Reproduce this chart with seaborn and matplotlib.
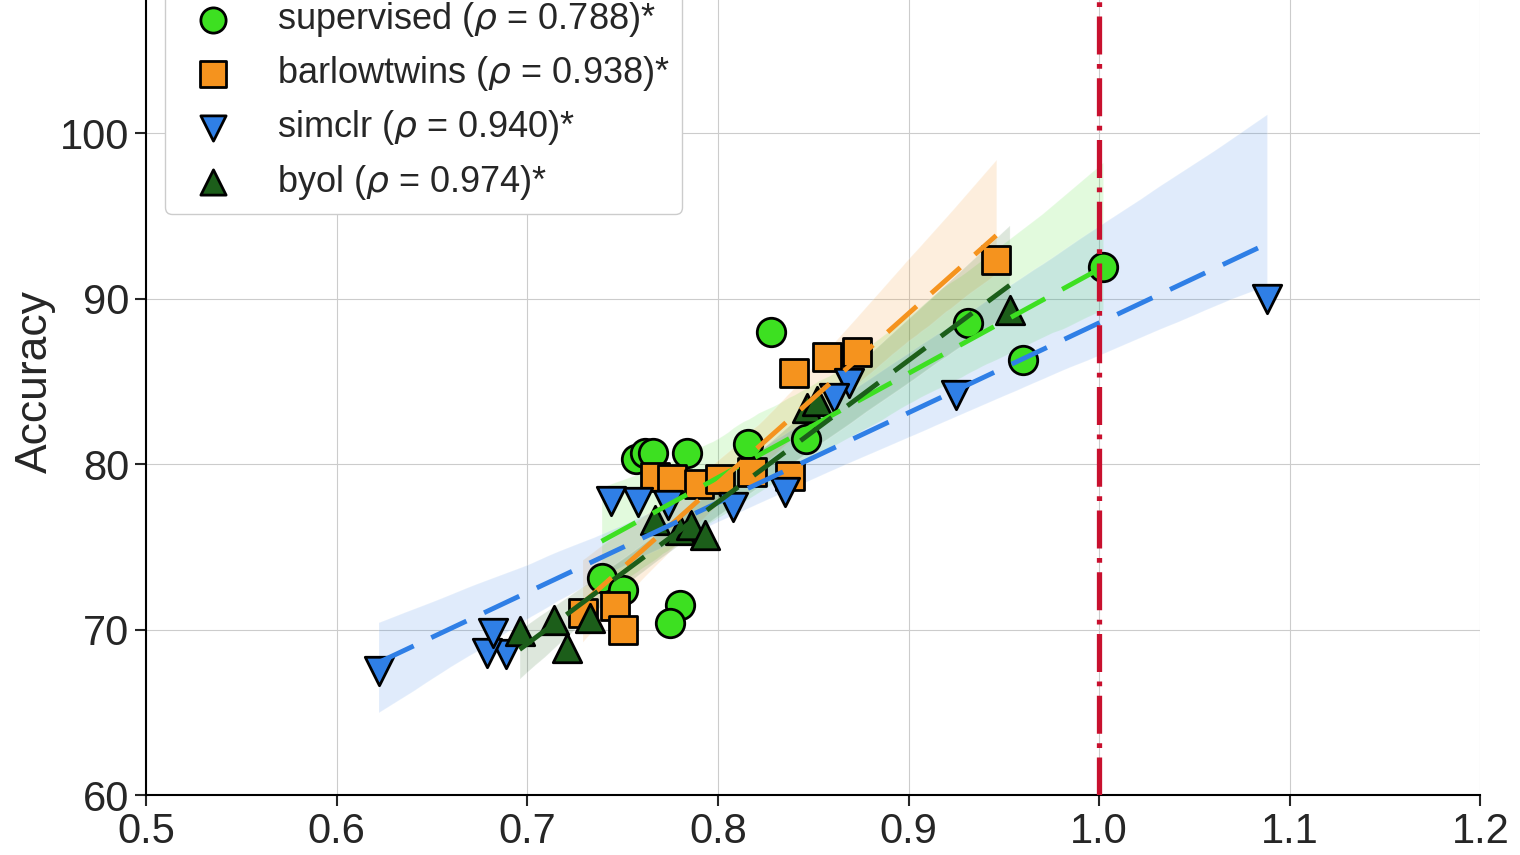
import matplotlib
matplotlib.use("Agg")
import matplotlib.pyplot as plt
import seaborn as sns
import numpy as np

# data
sup_x = [1.002, 0.960, 0.931, 0.828, 0.846, 0.816, 0.784, 0.757, 0.762, 0.766, 0.739, 0.750, 0.780, 0.775]
sup_y = [91.9, 86.3, 88.5, 88.0, 81.5, 81.2, 80.7, 80.3, 80.7, 80.7, 73.1, 72.4, 71.5, 70.4]

bt_x = [0.946, 0.873, 0.857, 0.840, 0.767, 0.776, 0.790, 0.801, 0.818, 0.838, 0.729, 0.746, 0.750]
bt_y = [92.3, 86.8, 86.5, 85.5, 79.2, 79.1, 78.8, 79.1, 79.5, 79.3, 71.0, 71.4, 70.0]

sim_x = [1.088, 0.925, 0.869, 0.861, 0.835, 0.808, 0.774, 0.758, 0.744, 0.689, 0.679, 0.682, 0.622]
sim_y = [90.0, 84.2, 84.9, 84.0, 78.3, 77.4, 77.5, 77.7, 77.8, 68.5, 68.6, 69.8, 67.5]

byol_x = [0.953, 0.847, 0.852, 0.767, 0.780, 0.786, 0.793, 0.696, 0.714, 0.721, 0.733]
byol_y = [89.3, 83.4, 83.8, 76.6, 76.0, 76.3, 75.7, 69.9, 70.6, 68.9, 70.7]

series = [
    ('supervised', 0.788, sup_x, sup_y, '#3de021', 'o'),
    ('barlowtwins', 0.938, bt_x, bt_y, '#f5931e', 's'),
    ('simclr', 0.940, sim_x, sim_y, '#2f7fe6', 'v'),
    ('byol', 0.974, byol_x, byol_y, '#1c5e1a', '^'),
]

sns.set_style("whitegrid", {'axes.edgecolor': 'black', 'grid.color': '#cccccc'})
plt.rcParams['font.family'] = ['Liberation Sans', 'DejaVu Sans']
plt.rcParams['mathtext.fontset'] = 'dejavusans'

fig = plt.figure(figsize=(15.2, 8.55), dpi=100)
# axes run a little past the top edge, like the cropped original
ax = fig.add_axes([0.096, 0.070, 0.878, 0.968])

handles = []
for name, rho, xs, ys, col, mk in series:
    sns.regplot(x=np.array(xs), y=np.array(ys), ax=ax, color=col, marker=mk,
                scatter_kws=dict(s=420, edgecolor='black', linewidths=2, alpha=1, zorder=3),
                line_kws=dict(ls=(0, (8, 4)), lw=3.5, zorder=4))
    h = ax.scatter([], [], s=330, marker=mk, color=col, edgecolor='black', linewidths=2,
                   label=r'%s ($\rho$ = %.3f)*' % (name, rho))
    handles.append(h)

ax.axvline(1.0, color='#c8102e', lw=3.8, ls=(0, (7.2, 1.8, 0.9, 1.8)), zorder=5)

ax.set_xlim(0.5, 1.2)
ax.set_ylim(60, 110)
ax.set_xticks(np.arange(0.5, 1.21, 0.1))
ax.set_xticklabels(['0.5', '0.6', '0.7', '0.8', '0.9', '1.0', '1.1', '1.2'])
ax.set_yticks([60, 70, 80, 90, 100])
ax.tick_params(labelsize=30, length=8, width=1.5, direction='out', bottom=True, left=True, pad=4)
ax.set_ylabel('Accuracy', fontsize=32, labelpad=3)
ax.set_xlabel('')
for s in ['top', 'right']:
    ax.spines[s].set_visible(False)
for s in ['left', 'bottom']:
    ax.spines[s].set_linewidth(1.5)

ax.legend(handles=handles, loc='lower left', bbox_to_anchor=(0.014, 0.702), borderaxespad=0,
          fontsize=26, labelspacing=0.42, handletextpad=0.75, borderpad=0.35, frameon=True,
          edgecolor='#cccccc', framealpha=1)

fig.savefig('out.png', dpi=100)
